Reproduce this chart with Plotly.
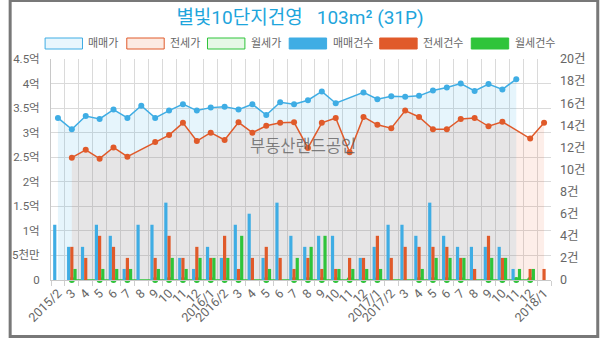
import plotly.graph_objects as go

# ---------------- data ----------------
months = ["2015-02", "2015-03", "2015-04", "2015-05", "2015-06", "2015-07", "2015-08", "2015-09",
          "2015-10", "2015-11", "2015-12", "2016-01", "2016-02", "2016-03", "2016-04", "2016-05",
          "2016-06", "2016-07", "2016-08", "2016-09", "2016-10", "2016-11", "2016-12", "2017-01",
          "2017-02", "2017-03", "2017-04", "2017-05", "2017-06", "2017-07", "2017-08", "2017-09",
          "2017-10", "2017-11", "2017-12", "2018-01"]
month_labels = ["2015/2", "3", "4", "5", "6", "7", "8", "9", "10", "11", "12", "2016/1",
                "2016/2", "3", "4", "5", "6", "7", "8", "9", "10", "11", "12", "2017/1",
                "2017/2", "3", "4", "5", "6", "7", "8", "9", "10", "11", "12", "2018/1"]

# prices (억)
sale_price = [3.30, 3.07, 3.34, 3.28, 3.47, 3.30, 3.55, 3.30, 3.45, 3.58, 3.45, 3.51,
              3.53, 3.47, 3.58, 3.36, 3.62, 3.58, 3.66, 3.84, 3.60, None, 3.82, 3.68,
              3.74, 3.73, 3.75, 3.86, 3.92, 4.00, 3.85, 3.99, 3.88, 4.09, None, None]
jeonse_price = [None, 2.49, 2.65, 2.47, 2.70, 2.51, None, 2.81, 2.95, 3.20, 2.83, 3.00,
                2.85, 3.21, 3.00, 3.14, 3.20, 3.21, 2.69, 3.20, 3.30, 2.60, 3.32, 3.16,
                3.09, 3.45, 3.32, 3.07, 3.07, 3.28, 3.30, 3.13, 3.22, None, 2.88, 3.20]
wolse_price = [None, 0, None, 0, 0, 0, None, 0, 0, 0, 0, 0,
               0, 0, None, 0, None, 0, 0, 0, 0, 0, 0, 0,
               None, None, 0, 0, 0, 0, None, 0, 0, 0, 0, None]

# counts (건)
sale_count = [5, 3, 3, 5, 4, 1, 5, 5, 7, 2, 1, 3, 2, 5, 6, 2, 7, 4, 3, 4, 4, 0, 2, 3,
              5, 5, 4, 7, 4, 3, 3, 3, 3, 1, 0, 0]
jeonse_count = [0, 3, 2, 4, 3, 2, 0, 2, 4, 2, 3, 2, 4, 1, 2, 3, 2, 1, 2, 1, 1, 2, 2, 4,
                2, 3, 3, 3, 3, 2, 1, 4, 2, 0, 1, 1]
wolse_count = [0, 1, 0, 1, 1, 1, 0, 1, 2, 1, 2, 2, 2, 4, 0, 1, 0, 2, 3, 4, 1, 1, 1, 1,
               0, 0, 1, 2, 2, 2, 0, 2, 2, 1, 1, 0]

left_ticks = [0, 0.5, 1, 1.5, 2, 2.5, 3, 3.5, 4, 4.5]
left_labels = ["0", "5천만", "1억", "1.5억", "2억", "2.5억", "3억", "3.5억", "4억", "4.5억"]
right_ticks = [0, 2, 4, 6, 8, 10, 12, 14, 16, 18, 20]
right_labels = ["0", "2건", "4건", "6건", "8건", "10건", "12건", "14건", "16건", "18건", "20건"]

legend_names = ["매매가", "전세가", "월세가", "매매건수", "전세건수", "월세건수"]

# ---------------- styling ----------------
BLUE = "#3fade4"
RED = "#e05a2a"
GREEN = "#2fc43a"
FONT = "Roboto, 'Noto Sans CJK KR', sans-serif"
W, H = 600, 338
ML, MR, MT, MB = 43, 49, 59, 58

fig = go.Figure()

fig.add_trace(go.Scatter(x=months, y=sale_price, mode="lines+markers", connectgaps=True,
                         fill="tozeroy", fillcolor="rgba(59,174,230,0.13)",
                         line=dict(color=BLUE, width=1.5), marker=dict(size=6, color=BLUE),
                         showlegend=False))
fig.add_trace(go.Scatter(x=months, y=jeonse_price, mode="lines+markers", connectgaps=True,
                         fill="tozeroy", fillcolor="rgba(232,90,40,0.10)",
                         line=dict(color=RED, width=1.5), marker=dict(size=6, color=RED),
                         showlegend=False))

fig.add_trace(go.Bar(x=months, y=sale_count, marker=dict(color=BLUE, line=dict(width=0)),
                     yaxis="y2", showlegend=False))
fig.add_trace(go.Bar(x=months, y=jeonse_count, marker=dict(color=RED, line=dict(width=0)),
                     yaxis="y2", showlegend=False))
fig.add_trace(go.Bar(x=months, y=wolse_count, marker=dict(color=GREEN, line=dict(width=0)),
                     yaxis="y2", showlegend=False))

fig.add_trace(go.Scatter(x=months, y=wolse_price, mode="lines+markers", connectgaps=True,
                         line=dict(color=GREEN, width=1.5), marker=dict(size=6, color=GREEN),
                         cliponaxis=False, showlegend=False))

pw = W - ML - MR
ph = H - MT - MB


def px_x(p):
    return (p - ML) / pw


def px_y(p):
    return (H - MB - p) / ph


shapes = []
annotations = []

# legend (manual)
leg_boxes = [(37, 75), (120, 158), (202, 240), (285, 323), (377, 415), (470, 508)]
leg_fill = ["#e8f6fd", "#fcebe3", "#e6f8e6", BLUE, RED, GREEN]
leg_line = [BLUE, RED, GREEN, BLUE, RED, GREEN]
for (x0, x1), fc, lc, name in zip(leg_boxes, leg_fill, leg_line, legend_names):
    shapes.append(dict(type="rect", xref="paper", yref="paper",
                       x0=px_x(x0), x1=px_x(x1), y0=px_y(49), y1=px_y(38),
                       fillcolor=fc, line=dict(color=lc, width=1)))
    annotations.append(dict(text=name, xref="paper", yref="paper", x=px_x(x1 + 4), y=px_y(43.5),
                            xanchor="left", yanchor="middle", showarrow=False,
                            font=dict(size=11, color="#666", family=FONT)))

# watermark
annotations.append(dict(text="부동산랜드공인", xref="paper", yref="paper", x=px_x(299), y=px_y(146),
                        xanchor="center", yanchor="middle", showarrow=False,
                        font=dict(size=16.5, color="rgba(90,90,90,0.75)", family=FONT)))

# outer frame
shapes.append(dict(type="rect", xref="paper", yref="paper", layer="above",
                   x0=px_x(1.5), x1=px_x(W - 1.5), y0=px_y(H - 1.5), y1=px_y(0.5),
                   line=dict(color="#787878", width=3), fillcolor="rgba(0,0,0,0)"))

fig.update_layout(
    width=W, height=H,
    margin=dict(l=ML, r=MR, t=MT, b=MB),
    paper_bgcolor="white", plot_bgcolor="white",
    font=dict(family=FONT, color="#666"),
    title=dict(text="별빛10단지건영   103m² (31P)", x=0.5, xanchor="center", xref="container",
               y=1 - 17 / H, yanchor="middle", yref="container",
               font=dict(size=19, color="#1ea5dc", family=FONT)),
    barmode="group", bargap=0.31, bargroupgap=0,
    showlegend=False,
    xaxis=dict(type="category", categoryorder="array", categoryarray=months,
               tickvals=months, ticktext=month_labels, tickson="boundaries",
               showgrid=True, gridcolor="#dadada", gridwidth=1,
               ticks="outside", ticklen=5, tickcolor="#cfcfcf",
               tickangle=-45, tickfont=dict(size=12.5, color="#666"),
               showline=True, linecolor="#c8c8c8", linewidth=1,
               range=[-0.5, 35.5]),
    yaxis=dict(range=[0, 4.5], tickvals=left_ticks, ticktext=left_labels,
               showgrid=True, gridcolor="#dadada", zeroline=False,
               showline=True, linecolor="#c8c8c8", ticks="", ticklabelstandoff=8,
               tickfont=dict(size=11.5, color="#666")),
    yaxis2=dict(range=[0, 20], tickvals=right_ticks, ticktext=right_labels,
                overlaying="y", side="right", showgrid=False, zeroline=False,
                showline=False, ticks="", ticklabelstandoff=8,
                tickfont=dict(size=12.5, color="#666")),
    shapes=shapes,
    annotations=annotations,
)

fig.write_html("out.html")
